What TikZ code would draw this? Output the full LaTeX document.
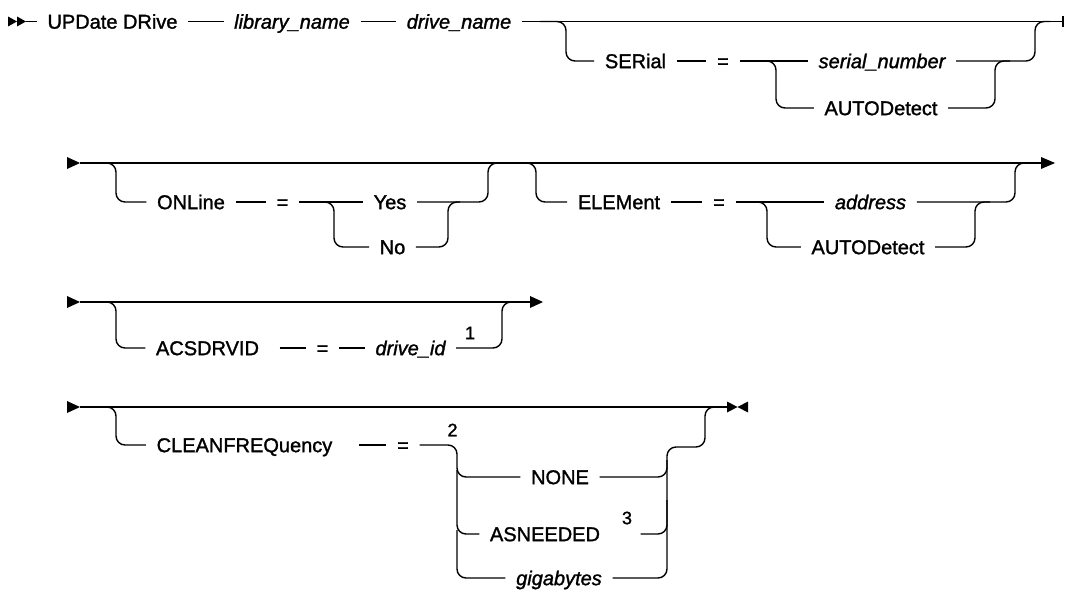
\documentclass[tikz,border=0pt]{standalone}
\usepackage{fontspec}
\setmainfont{Liberation Sans}[FakeBold=1.4]
\begin{document}
\begin{tikzpicture}[x=1pt, y=-1pt, line width=1.4pt, font=\fontsize{20}{24}\selectfont,
	txt/.style={inner xsep=10pt, inner ysep=0pt, text height=14.3pt, text depth=0pt},
	kw/.style={txt},
	var/.style={txt, font=\fontsize{20}{24}\selectfont\itshape},
	note/.style={inner sep=0pt, font=\fontsize{18}{22}\selectfont},
	rail/.style={rounded corners=9pt}]
	\useasboundingbox (0,0) rectangle (1065,591);

	\node[kw] (upd) at (112.5,21.5) {UPDate DRive};
	\node[var] (lib) at (292,21.5) {library\_name};
	\node[var] (drv) at (459,21.5) {drive\_name};
	\node[kw] (ser) at (635.5,61) {SERial};
	\node[kw] (eqs) at (723,61) {=};
	\node[var] (sno) at (882,61) {serial\_number};
	\node[kw] (auts) at (881,108) {AUTODetect};
	\fill (8,16.5) -- (17,21.5) -- (8,26.5) -- cycle;
	\fill (17,16.5) -- (26,21.5) -- (17,26.5) -- cycle;
	\draw (26,21.5) -- (upd.west);
	\draw (upd.east) -- (lib.west);
	\draw (lib.east) -- (drv.west);
	\draw (drv.east) -- (1063,21.5);
	\draw (1063,16) -- (1063,27);
	\draw[rail] (540,21.5) -| (566,61) -- (ser.west);
	\draw (ser.east) -- (eqs.west);
	\draw (eqs.east) -- (sno.west);
	\draw[rail] (760,61) -| (776,108) -- (auts.west);
	\draw[rail] (auts.east) -| (995,61) -- (1010,61);
	\draw[rail] (sno.east) -| (1035,21.5) -- (1050,21.5);

	\node[kw] (onl) at (191,202) {ONLine};
	\node[kw] (eqo) at (282.5,202) {=};
	\node[kw] (yes) at (390,202) {Yes};
	\node[kw] (no) at (392.5,247) {No};
	\node[kw] (ele) at (619,202) {ELEMent};
	\node[kw] (eqe) at (719,202) {=};
	\node[var] (adr) at (870.5,202) {address};
	\node[kw] (aute) at (868,247) {AUTODetect};
	\fill (67,157) -- (80,163) -- (67,169) -- cycle;
	\draw (80,163) -- (1042,163);
	\fill (1041,157) -- (1055,163) -- (1041,169) -- cycle;
	\draw[rail] (100,163) -| (116,202) -- (onl.west);
	\draw (onl.east) -- (eqo.west);
	\draw (eqo.east) -- (yes.west);
	\draw[rail] (320,202) -| (334,247) -- (no.west);
	\draw[rail] (no.east) -| (448,202) -- (460,202);
	\draw[rail] (yes.east) -| (488,163) -- (500,163);
	\draw[rail] (520,163) -| (536,202) -- (ele.west);
	\draw (ele.east) -- (eqe.west);
	\draw (eqe.east) -- (adr.west);
	\draw[rail] (752,202) -| (767,247) -- (aute.west);
	\draw[rail] (aute.east) -| (975,202) -- (990,202);
	\draw[rail] (adr.east) -| (1015,163) -- (1030,163);

	\node[kw] (acs) at (207.5,348) {ACSDRVID};
	\node[kw] (eqa) at (322.5,348) {=};
	\node[var] (did) at (410.5,348) {drive\_id};
	\node[note] (n1) at (470,333) {1};
	\fill (67,296) -- (80,302) -- (67,308) -- cycle;
	\draw (80,302) -- (531,302);
	\fill (530,296) -- (543,302) -- (530,308) -- cycle;
	\draw[rail] (100,302) -| (116,348) -- (acs.west);
	\draw ([xshift=10pt]acs.east) -- (eqa.west);
	\draw (eqa.east) -- (did.west);
	\draw[rail] (did.east) -| (502,302) -- (515,302);

	\node[kw] (cln) at (244.5,445) {CLEANFREQuency};
	\node[kw] (eqc) at (403,445) {=};
	\node[note] (n2) at (452.5,430) {2};
	\node[kw] (non) at (560,477) {NONE};
	\node[kw] (asn) at (545,534) {ASNEEDED};
	\node[note, inner xsep=8pt] (n3) at (627,518) {3};
	\node[var] (gig) at (559,578) {gigabytes};
	\fill (67,401) -- (80,407) -- (67,413) -- cycle;
	\draw (80,407) -- (727,407);
	\fill (727,401.5) -- (737.5,407) -- (727,412.5) -- cycle;
	\fill (748,401.5) -- (737.5,407) -- (748,412.5) -- cycle;
	\draw[rail] (100,407) -| (116,445) -- (cln.west);
	\draw ([xshift=16pt]cln.east) -- (eqc.west);
	\draw[rail] (eqc.east) -| (457,477) -- (non.west);
	\draw[rail] (457,470) |- (asn.west);
	\draw[rail] (457,530) |- (gig.west);
	\draw[rail] (non.east) -| (667,460);
	\draw[rail] (asn.east -| n3.east) -| (667,500);
	\draw[rail] (gig.east) -| (667,447) -| (705,407) -- (718,407);
\end{tikzpicture}
\end{document}
